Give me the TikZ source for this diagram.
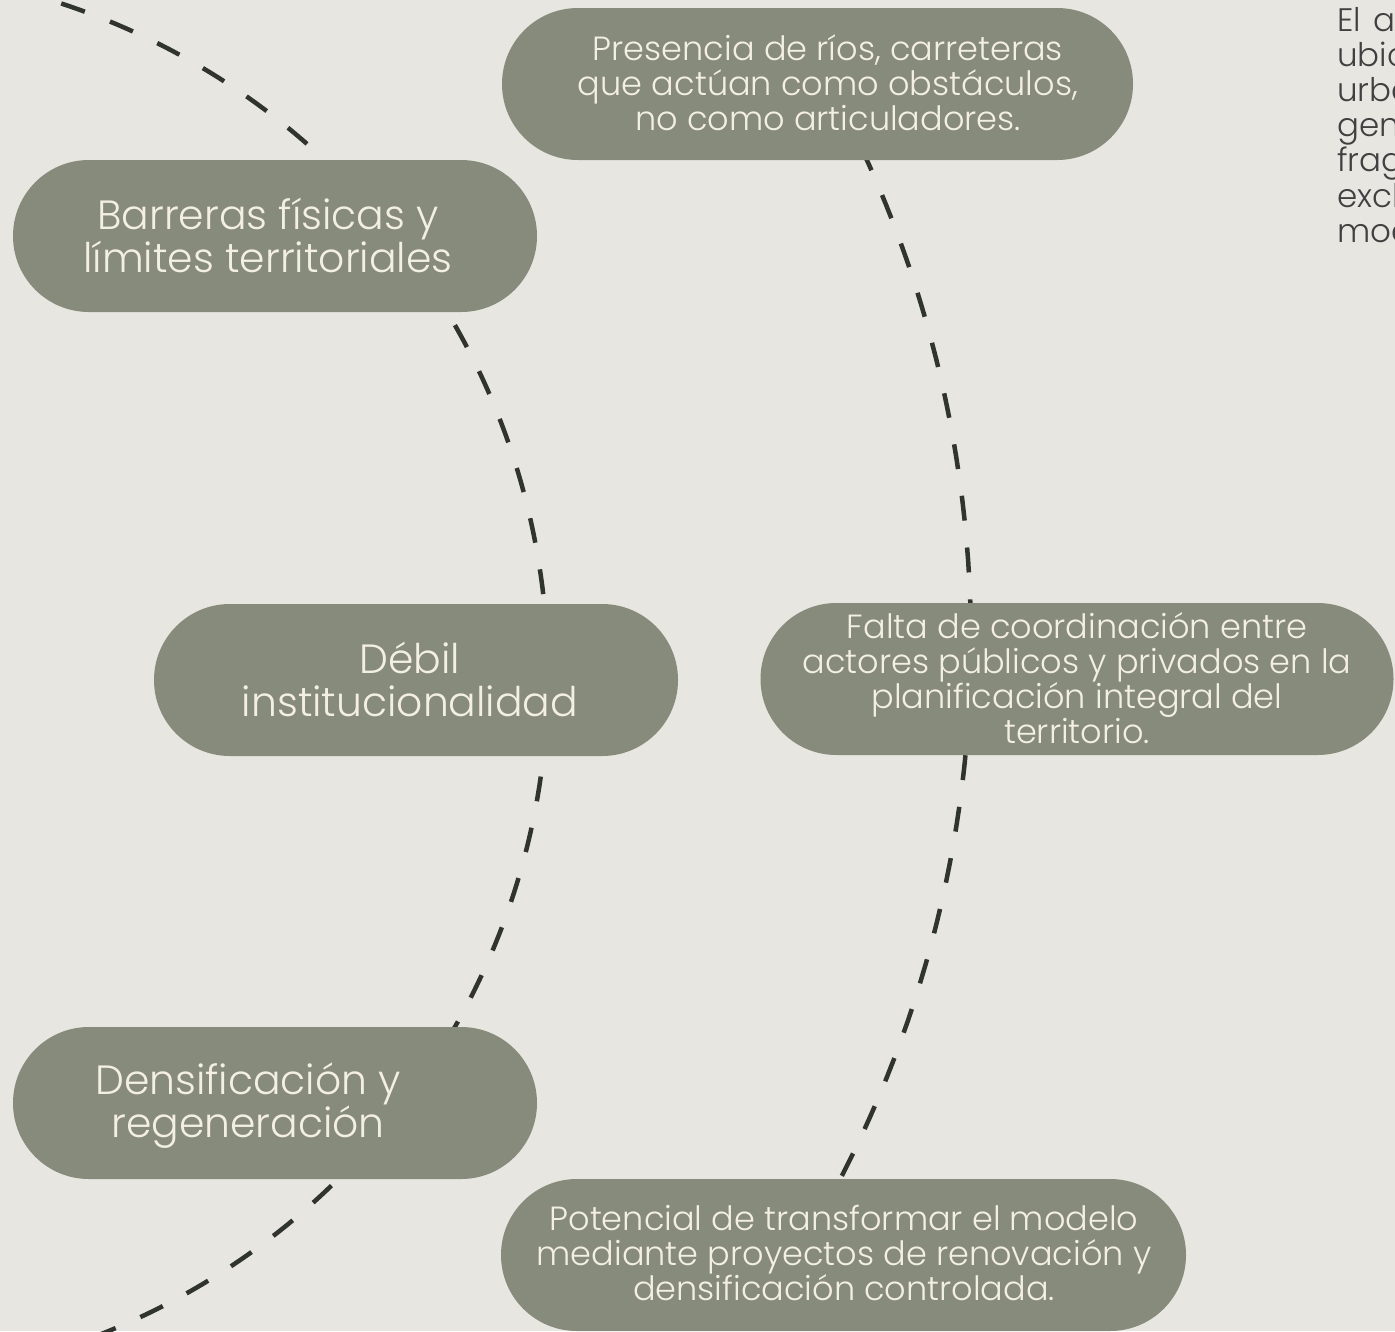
\documentclass[tikz,border=0pt]{standalone}
\usepackage{fontspec}
\setmainfont{Poppins}[UprightFont=* Light]
\definecolor{bgc}{HTML}{E8E6E0}
\definecolor{pillc}{HTML}{878B7C}
\definecolor{pilltext}{HTML}{F3EFE3}
\definecolor{dashc}{HTML}{30342E}
\definecolor{bodytext}{HTML}{404040}
\newlength\wsmall
\newlength\wbig
\begin{document}
\settowidth\wsmall{\fontsize{10pt}{12pt}\selectfont actores públicos y privados en la}
\settowidth\wbig{\fontsize{10pt}{12pt}\selectfont límites territoriales}
\pgfmathsetmacro\fsS{10*549/\wsmall}
\pgfmathsetmacro\fsB{10*369/\wbig}
\pgfmathsetmacro\fsR{0.97*\fsS}
\begin{tikzpicture}[x=1pt,y=-1pt,
  pill/.style={fill=pillc, draw=none, rounded corners=75.9pt, inner sep=0pt, minimum height=152pt},
  ptxt/.style={text=pilltext, align=center, inner sep=0pt, font=\fontsize{\fsS pt}{35pt}\selectfont},
  btxt/.style={text=pilltext, align=center, inner sep=0pt, font=\fontsize{\fsB pt}{43pt}\selectfont},
  arcline/.style={draw=dashc, line width=4.5pt, dash pattern=on 25pt off 27pt},
  rtxt/.style={text=bodytext, anchor=base west, inner sep=0pt, font=\fontsize{\fsR pt}{35pt}\selectfont}]
\useasboundingbox (0,0) rectangle (1395,1331);
\fill[bgc] (0,0) rectangle (1395,1331);
% decorative dashed arcs (behind the pills)
\draw[arcline] plot[domain=-76:71, samples=300] ({-160+708*cos(\x)},{676+708*sin(\x)});
\draw[arcline] plot[domain=-27.6:31.4, samples=300] ({-197+1168*cos(\x)},{642+1168*sin(\x)});
% pills
\node[pill, minimum width=631pt] (p1) at (817.5,84) {};
\node[pill, minimum width=524pt] (p2) at (275,236) {};
\node[pill, minimum width=524pt] (p3) at (416,680) {};
\node[pill, minimum width=633pt] (p4) at (1077,679) {};
\node[pill, minimum width=524pt] (p5) at (275,1103) {};
\node[pill, minimum width=685pt] (p6) at (843.5,1255) {};
% pill texts
\node[ptxt] (t1) at (828,82.5) {Presencia de ríos, carreteras\\que actúan como obstáculos,\\no como articuladores.};
\node[btxt] (t2) at (268,235.5) {Barreras físicas y\\límites territoriales};
\node[btxt] (t3) at (410,679) {Débil\\institucionalidad};
\node[ptxt] (t4) at (1077,678) {Falta de coordinación entre\\actores públicos y privados en la\\planificación integral del\\territorio.};
\node[btxt] (t5) at (248,1106) {Densificación y\\regeneración};
\node[ptxt] (t6) at (844,1253) {Potencial de transformar el modelo\\mediante proyectos de renovación y\\densificación controlada.};
% right column text (cut by the page edge)
\node[rtxt] (r1) at (1337,31) {El\hspace{0.4em}a};
\node[rtxt] (r2) at (1337,66.2) {ubic};
\node[rtxt] (r3) at (1337,101.4) {urba};
\node[rtxt] (r4) at (1337,136.6) {gen};
\node[rtxt] (r5) at (1337,171.8) {frag};
\node[rtxt] (r6) at (1337,207) {excl};
\node[rtxt] (r7) at (1337,242.2) {mod};
\end{tikzpicture}
\end{document}
